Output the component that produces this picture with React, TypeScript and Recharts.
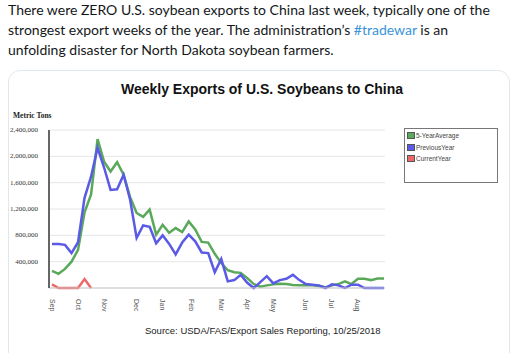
import React from 'react';
import { LineChart, Line, XAxis, YAxis, CartesianGrid } from 'recharts';

// weekly export values, metric tons (marketing year Sep..Aug)
const fiveYearAverage = [
    260000, 215000, 290000, 400000, 580000, 1150000, 1420000, 2260000, 1920000, 1770000,
    1910000, 1720000, 1380000, 1140000, 1080000, 1190000, 810000, 960000, 840000, 910000,
    850000, 1010000, 890000, 700000, 690000, 520000, 380000, 270000, 240000, 230000,
    150000, 60000, 20000, 40000, 55000, 65000, 60000, 45000, 40000, 40000,
    40000, 30000, 10000, 40000, 60000, 100000, 60000, 140000, 140000, 120000,
    145000, 145000,
];
const previousYear = [
    670000, 670000, 655000, 530000, 695000, 1370000, 1690000, 2130000, 1830000, 1490000,
    1500000, 1720000, 1340000, 760000, 950000, 930000, 680000, 800000, 670000, 510000,
    690000, 810000, 710000, 540000, 530000, 240000, 440000, 100000, 120000, 200000,
    80000, 0, 90000, 180000, 70000, 120000, 140000, 200000, 120000, 60000,
    50000, 40000, 0, 55000, 40000, 0, 50000, 50000, 0, 0,
    0, 0,
];
const currentYear = [55000, 0, 0, 0, 0, 135000, 0];

const monthLabels = ['Sep', 'Oct', 'Nov', 'Dec', 'Jan', 'Feb', 'Mar', 'Apr', 'May', 'Jun', 'Jul', 'Aug'];
const monthWeeks = [0, 4, 8, 13, 17, 21.5, 26, 30, 34, 39, 43, 47];
const yTicks = [400000, 800000, 1200000, 1600000, 2000000, 2400000];

const GREEN = '#5aa85a';
const BLUE = '#5a5ae6';
const RED = '#ee6868';

const data = fiveYearAverage.map((v, i) => ({
    week: i,
    avg: v,
    prev: previousYear[i],
    cur: i < currentYear.length ? currentYear[i] : null,
}));

const legendItems = [
    { label: '5-YearAverage', color: GREEN },
    { label: 'PreviousYear', color: BLUE },
    { label: 'CurrentYear', color: RED },
];

const tweetLines = [
    'There were ZERO U.S. soybean exports to China last week, typically one of the',
    'strongest export weeks of the year. The administration’s ',
    'unfolding disaster for North Dakota soybean farmers.',
];

const MonthTick = ({ x, y, payload }: any) => {
    const idx = monthWeeks.indexOf(payload.value);
    return (
        <text
            x={x}
            y={y + 3}
            transform={`rotate(90, ${x}, ${y + 3})`}
            textAnchor="start"
            dominantBaseline="central"
            fontFamily="'Liberation Sans', Arial, sans-serif"
            fontSize={7}
            fill="#555"
        >
            {monthLabels[idx]}
        </text>
    );
};

const TonTick = ({ x, y, payload }: any) => (
    <text
        x={x - 3}
        y={y}
        textAnchor="end"
        dominantBaseline="central"
        fontFamily="'Liberation Serif', serif"
        fontSize={7}
        fill="#333"
    >
        {payload.value.toLocaleString('en-US')}
    </text>
);

const sans = "'Liberation Sans', Arial, sans-serif";

export default function App() {
    return (
        <div style={{ position: 'fixed', left: 0, top: 0, width: 519, height: 353, background: '#fff', overflow: 'hidden' }}>
            <div style={{ position: 'absolute', left: 8, top: 0, fontFamily: 'Lato, sans-serif', fontSize: 14, lineHeight: '20px', color: '#14171a', whiteSpace: 'nowrap' }}>
                <div>{tweetLines[0]}</div>
                <div>{tweetLines[1]}<span style={{ color: '#3b94d9' }}>#tradewar</span> is an</div>
                <div>{tweetLines[2]}</div>
            </div>
            <div style={{ position: 'absolute', left: 8, top: 70, width: 502, height: 320, border: '1px solid #e1e8ed', borderRadius: 12, boxSizing: 'border-box' }} />
            <div style={{ position: 'absolute', left: 0, top: 81, width: 524, textAlign: 'center', fontFamily: sans, fontWeight: 'bold', fontSize: 14, lineHeight: '16px', color: '#111' }}>
                Weekly Exports of U.S. Soybeans to China
            </div>
            <div style={{ position: 'absolute', left: 13, top: 111, fontFamily: "'Liberation Serif', serif", fontWeight: 'bold', fontSize: 7.5, color: '#222' }}>
                Metric Tons
            </div>
            <div style={{ position: 'absolute', left: 145, top: 325, fontFamily: sans, fontSize: 9.5, color: '#222' }}>
                Source: USDA/FAS/Export Sales Reporting, 10/25/2018
            </div>
            <div style={{ position: 'absolute', left: 404, top: 128, width: 94, height: 55, border: '1px solid #777', boxSizing: 'border-box', padding: '1px 2px', background: '#fff' }}>
                {legendItems.map(item => (
                    <div key={item.label} style={{ display: 'flex', alignItems: 'center', height: 11.5 }}>
                        <span style={{ width: 8, height: 7, background: item.color, border: '1px solid #555', boxSizing: 'border-box', marginRight: 1 }} />
                        <span style={{ fontFamily: sans, fontSize: 6.5, color: '#444' }}>{item.label}</span>
                    </div>
                ))}
            </div>
            <div style={{ position: 'absolute', left: 0, top: 0 }}>
                <LineChart width={519} height={353} data={data} margin={{ top: 130, right: 134, bottom: 45, left: 0 }}>
                    <CartesianGrid vertical={false} stroke="#e6e6e6" />
                    <XAxis
                        dataKey="week"
                        type="number"
                        domain={[0, 51]}
                        ticks={monthWeeks}
                        tick={<MonthTick />}
                        tickLine={false}
                        axisLine={{ stroke: '#c8c8c8' }}
                        padding={{ left: 3, right: 1 }}
                        height={20}
                        interval={0}
                    />
                    <YAxis
                        domain={[0, 2400000]}
                        ticks={yTicks}
                        tick={<TonTick />}
                        tickLine={false}
                        axisLine={{ stroke: '#333', strokeWidth: 1.5 }}
                        width={49}
                        interval={0}
                    />
                    <Line type="linear" dataKey="avg" stroke={GREEN} strokeWidth={2.5} dot={false} isAnimationActive={false} />
                    <Line type="linear" dataKey="prev" stroke={BLUE} strokeWidth={2.5} dot={false} isAnimationActive={false} />
                    <Line type="linear" dataKey="cur" stroke={RED} strokeWidth={2.5} dot={false} isAnimationActive={false} connectNulls={false} />
                </LineChart>
            </div>
        </div>
    );
}
